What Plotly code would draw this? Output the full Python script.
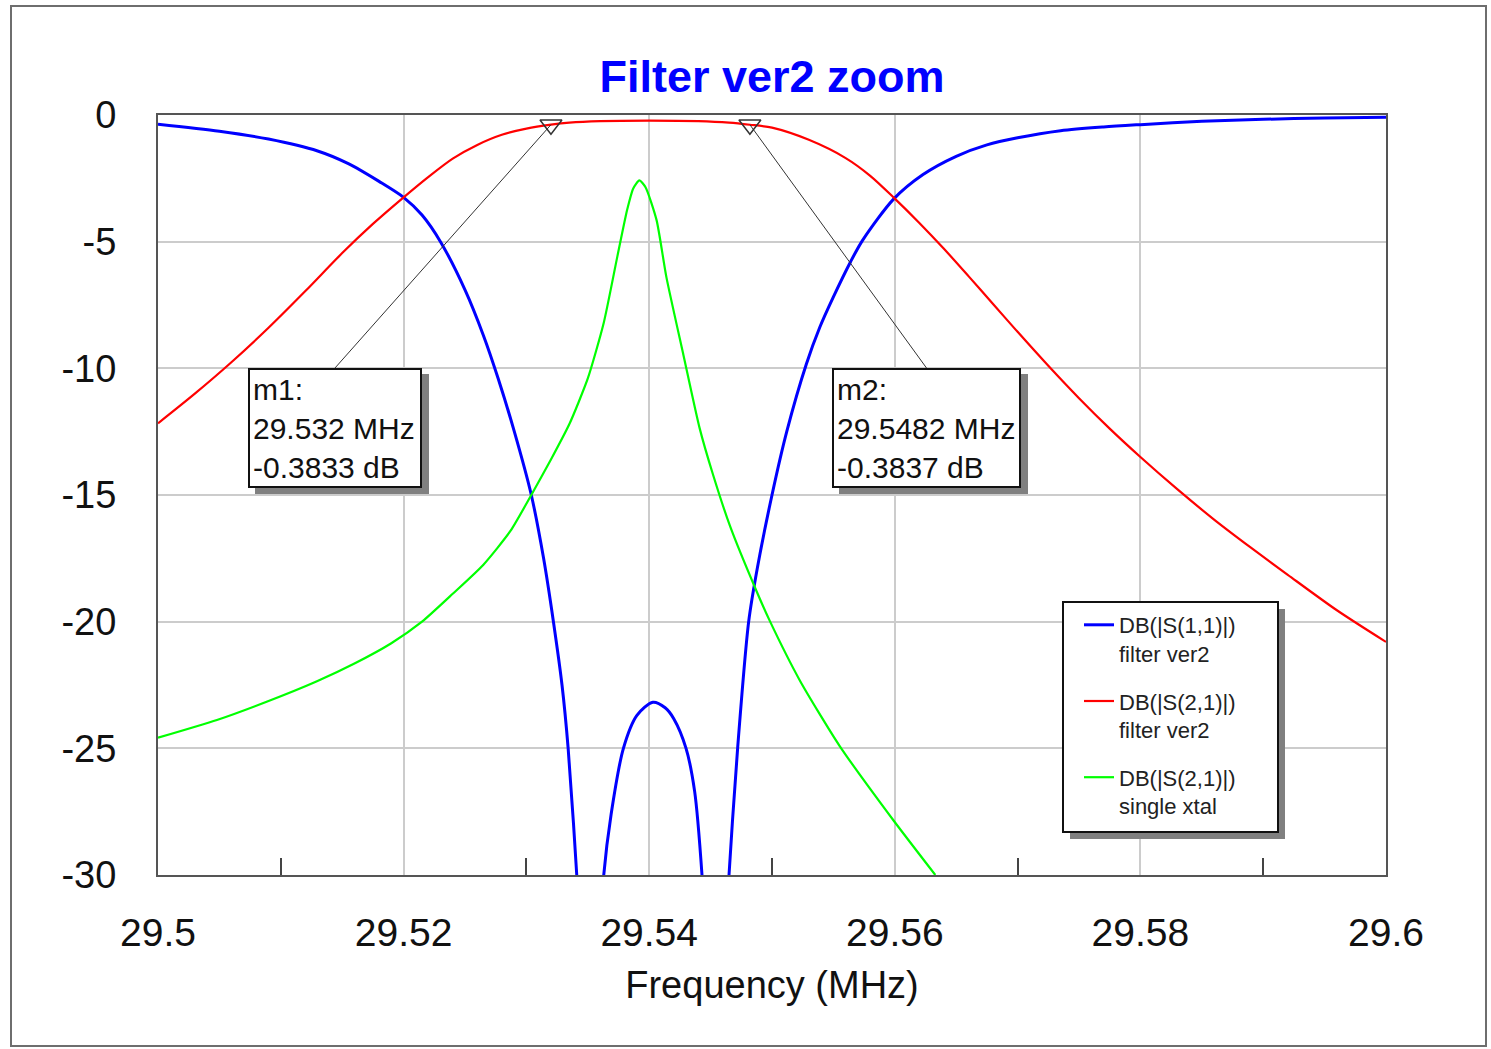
import plotly.graph_objects as go

# ---------------- data ----------------
s21_filter_f = [29.5000, 29.5030, 29.5060, 29.5090, 29.5120, 29.5150, 29.5175, 29.5200,
                29.5220, 29.5240, 29.5260, 29.5280, 29.5300, 29.5320, 29.5335, 29.5360,
                29.5400, 29.5440, 29.5465, 29.5482, 29.5500, 29.5530, 29.5560, 29.5580,
                29.5600, 29.5620, 29.5640, 29.5660, 29.5680, 29.5700, 29.5725, 29.5750,
                29.5775, 29.5800, 29.5830, 29.5860, 29.5890, 29.5920, 29.5960, 29.6000]
s21_filter_db = [-12.17, -11.0, -9.75, -8.40, -6.95, -5.45, -4.30, -3.25,
                 -2.45, -1.72, -1.18, -0.78, -0.54, -0.383, -0.30, -0.24,
                 -0.22, -0.24, -0.30, -0.3837, -0.50, -0.98, -1.70, -2.40,
                 -3.30, -4.26, -5.28, -6.36, -7.46, -8.56, -9.90, -11.18,
                 -12.38, -13.50, -14.77, -15.97, -17.08, -18.15, -19.55, -20.8]

s11_filter_f = [29.5000, 29.5050, 29.5090, 29.5130, 29.5155, 29.5180, 29.5200, 29.5215,
                29.5230, 29.5250, 29.5265, 29.5277, 29.5290, 29.5304, 29.5314, 29.5322,
                29.5329, 29.5334, 29.5341, 29.5352, 29.5363, 29.5369, 29.5379, 29.5390,
                29.5403, 29.5413, 29.5420, 29.5430, 29.5437, 29.5443, 29.5454, 29.5465,
                29.5472, 29.5481, 29.5488, 29.5500, 29.5512, 29.5528, 29.5539, 29.5550,
                29.5564, 29.5574, 29.5599, 29.5623, 29.5650, 29.5675, 29.5700,
                29.5735, 29.5770, 29.5800, 29.5850, 29.5900, 29.5950, 29.6000]
s11_filter_db = [-0.36, -0.64, -0.95, -1.42, -1.92, -2.62, -3.25, -3.95,
                 -5.0, -6.9, -8.7, -10.4, -12.47, -15.0, -17.5, -20.0,
                 -22.5, -25.0, -30.0, -40.0, -30.0, -27.6, -25.0, -23.7,
                 -23.18, -23.4, -23.83, -25.0, -26.7, -30.0, -40.0, -30.0,
                 -25.0, -20.0, -17.9, -15.0, -12.5, -9.83, -8.37, -7.18,
                 -5.79, -4.93, -3.32, -2.35, -1.63, -1.18, -0.9,
                 -0.62, -0.47, -0.38, -0.25, -0.17, -0.12, -0.09]

s21_xtal_f = [29.5000, 29.5048, 29.5089, 29.5129, 29.5160, 29.5190, 29.5215, 29.5240,
              29.5265, 29.5287, 29.5304, 29.5320, 29.5335, 29.5350, 29.5363, 29.5374,
              29.5382, 29.5387, 29.5392, 29.5397, 29.5406, 29.5414, 29.5428, 29.5441,
              29.5452, 29.5466, 29.5487, 29.5498, 29.5523, 29.5555, 29.5599, 29.5633]
s21_xtal_db = [-24.58, -23.88, -23.15, -22.36, -21.65, -20.85, -20.0, -18.9,
               -17.75, -16.42, -15.0, -13.6, -12.2, -10.4, -8.2, -5.6,
               -3.75, -2.9, -2.58, -2.85, -4.15, -6.4, -9.5, -12.35,
               -14.2, -16.25, -18.75, -19.95, -22.35, -24.9, -27.85, -30.0]

series_names = ["DB(|S(1,1)|)<br>filter ver2", "DB(|S(2,1)|)<br>filter ver2",
                "DB(|S(2,1)|)<br>single xtal"]

marker_names = ["m1", "m2"]
marker_f = [29.532, 29.5482]
marker_db = [-0.3833, -0.3837]

x_tickvals = [29.5, 29.52, 29.54, 29.56, 29.58, 29.6]
x_ticktext = ["29.5", "29.52", "29.54", "29.56", "29.58", "29.6"]
x_minorvals = [29.51, 29.53, 29.55, 29.57, 29.59]
y_tickvals = [0, -5, -10, -15, -20, -25, -30]
y_ticktext = ["0", "-5", "-10", "-15", "-20", "-25", "-30"]

# ---------------- layout geometry ----------------
W, H = 1491, 1049
L, R, T, B = 158, 105, 115, 174
PW, PH = W - L - R, H - T - B
FONT = "Liberation Sans, Arial, sans-serif"


def px2paper_x(px):
    return (px - L) / PW


def px2paper_y(py):
    return (T + PH - py) / PH


fig = go.Figure()
fig.add_trace(go.Scatter(x=s11_filter_f, y=s11_filter_db, mode="lines", name=series_names[0],
                         line=dict(color="#0000FF", width=3, shape="spline", smoothing=0.8),
                         legendgroup="a"))
fig.add_trace(go.Scatter(x=s21_filter_f, y=s21_filter_db, mode="lines", name=series_names[1],
                         line=dict(color="#FF0000", width=2.2, shape="spline", smoothing=0.8),
                         legendgroup="b"))
fig.add_trace(go.Scatter(x=s21_xtal_f, y=s21_xtal_db, mode="lines", name=series_names[2],
                         line=dict(color="#00FF00", width=2.2, shape="spline", smoothing=0.6),
                         legendgroup="c"))
fig.add_trace(go.Scatter(x=marker_f, y=marker_db, mode="markers", showlegend=False,
                         marker=dict(symbol="triangle-down-open", size=19,
                                     color="#333333", line=dict(width=1.5)),
                         cliponaxis=False, hoverinfo="skip"))

shapes = []
# outer frame
shapes.append(dict(type="rect", xref="paper", yref="paper",
                   x0=px2paper_x(11), x1=px2paper_x(1486), y0=px2paper_y(1046), y1=px2paper_y(6),
                   line=dict(color="#6e6e6e", width=2), fillcolor="rgba(0,0,0,0)", layer="below"))

# marker boxes: (left, top, right, bottom) in pixels
boxes = [(248, 368, 422, 488), (832, 368, 1021, 488)]
for (bl, bt, br, bb) in boxes:
    shapes.append(dict(type="rect", xref="paper", yref="paper",
                       x0=px2paper_x(bl + 7), x1=px2paper_x(br + 7),
                       y0=px2paper_y(bb + 6), y1=px2paper_y(bt + 6),
                       line=dict(width=0), fillcolor="#808080", layer="above"))

# legend box + shadow
lg = (1063, 602, 1278, 832)
shapes.append(dict(type="rect", xref="paper", yref="paper",
                   x0=px2paper_x(lg[0] + 7), x1=px2paper_x(lg[2] + 7),
                   y0=px2paper_y(lg[3] + 7), y1=px2paper_y(lg[1] + 7),
                   line=dict(width=0), fillcolor="#808080", layer="above"))
shapes.append(dict(type="rect", xref="paper", yref="paper",
                   x0=px2paper_x(lg[0]), x1=px2paper_x(lg[2]),
                   y0=px2paper_y(lg[3]), y1=px2paper_y(lg[1]),
                   line=dict(color="#111111", width=2), fillcolor="white", layer="above"))

annotations = []
for i, (bl, bt, br, bb) in enumerate(boxes):
    mx_px = L + (marker_f[i] - 29.5) / 0.1 * PW
    my_px = T + (-marker_db[i]) / 30 * PH
    annotations.append(dict(
        x=marker_f[i], y=marker_db[i], xref="x", yref="y",
        text=f"{marker_names[i]}:<br>{marker_f[i]} MHz<br>{marker_db[i]} dB",
        showarrow=True, arrowhead=0, arrowwidth=1, arrowcolor="#333333",
        ax=(bl + br) / 2 - mx_px, ay=bt - my_px,
        xanchor="center", yanchor="top", align="left",
        height=bb - bt - 10, width=br - bl - 10, valign="middle",
        bgcolor="white", bordercolor="#111111", borderwidth=2, borderpad=3,
        font=dict(family=FONT, size=30, color="#111111"),
    ))

fig.update_layout(
    width=W, height=H,
    margin=dict(l=L, r=R, t=T, b=B, autoexpand=False),
    paper_bgcolor="white", plot_bgcolor="white",
    title=dict(text="<b>Filter ver2 zoom</b>", x=0.5, xref="paper", xanchor="center",
               y=1 - 76 / H, yref="container", yanchor="middle",
               font=dict(family=FONT, size=45, color="#0000FF")),
    font=dict(family=FONT, color="#111111"),
    shapes=shapes,
    annotations=annotations,
    showlegend=True,
    legend=dict(x=px2paper_x(lg[0] + 16), y=px2paper_y(lg[1] + 2), xanchor="left", yanchor="top",
                bgcolor="rgba(0,0,0,0)", borderwidth=0, traceorder="grouped",
                tracegroupgap=16, valign="top",
                font=dict(family=FONT, size=22, color="#222222")),
    xaxis=dict(range=[29.5, 29.6], tickvals=x_tickvals, ticktext=x_ticktext,
               showgrid=True, gridcolor="#cccccc", gridwidth=1.5,
               showline=True, mirror=True, linecolor="#555555", linewidth=2,
               ticks="", ticklabelstandoff=22, zeroline=False,
               tickfont=dict(family=FONT, size=39, color="#111111"),
               minor=dict(tickvals=x_minorvals, ticks="inside", ticklen=17,
                          tickwidth=2, tickcolor="#444444", showgrid=False),
               title=dict(text="Frequency (MHz)", standoff=19,
                          font=dict(family=FONT, size=38, color="#111111"))),
    yaxis=dict(range=[-30, 0], tickvals=y_tickvals, ticktext=y_ticktext,
               showgrid=True, gridcolor="#cccccc", gridwidth=1.5,
               showline=True, mirror=True, linecolor="#555555", linewidth=2,
               ticks="", ticklabelstandoff=32, zeroline=False,
               tickfont=dict(family=FONT, size=38, color="#111111")),
)

fig.write_html("out.html", config={"displayModeBar": False},
               post_script="document.body.style.margin='0px';document.body.style.padding='0px';")
